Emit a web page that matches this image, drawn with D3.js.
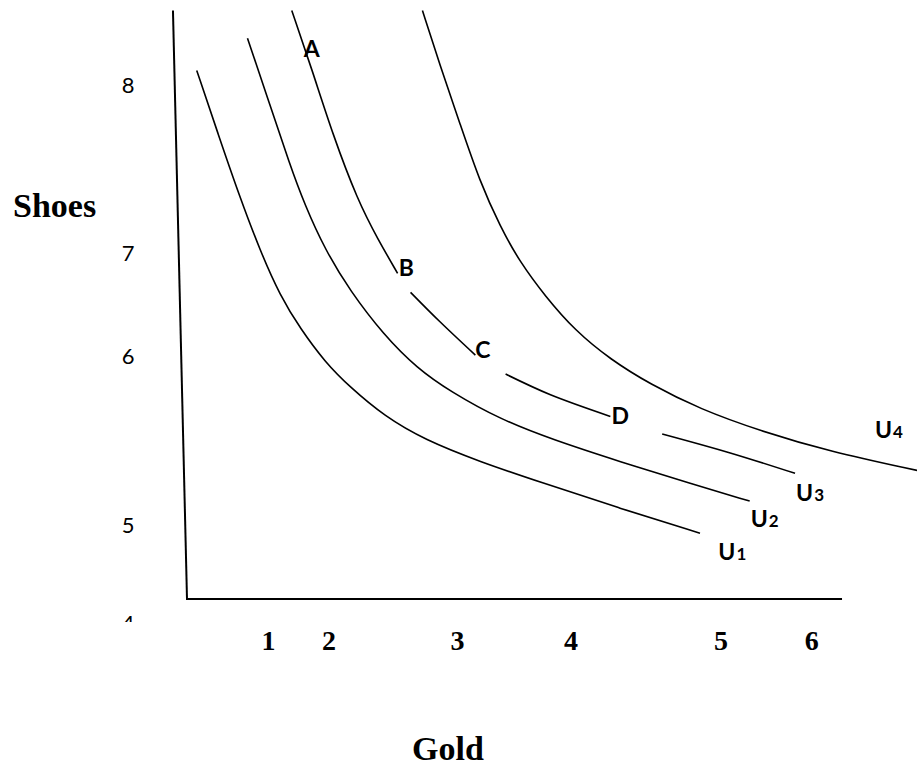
<!DOCTYPE html>
<html>
<head>
<meta charset="utf-8">
<script src="https://cdn.jsdelivr.net/npm/d3@7"></script>
<style>
  html, body { margin: 0; padding: 0; background: #fff; }
  svg { display: block; }
</style>
</head>
<body>
<svg id="chart" width="917" height="767"></svg>
<script>
// ---------- data ----------
// tick labels on the Gold (x) axis and where they sit (in gold units)
const goldTickLabels = ["1", "2", "3", "4", "5", "6"];
const goldTickPos    = [1.00, 1.56, 2.75, 3.80, 5.19, 6.03];
// tick labels on the Shoes (y) axis and where they sit (in shoes units)
const shoesTickLabels = ["8", "7", "6", "5", "4"];
const shoesTickPos    = [8.00, 6.85, 6.15, 4.99, 4.32];

// indifference curves (gold, shoes)
const u1Gold  = [0.34, 0.54, 0.74, 0.93, 1.11, 1.30, 1.53, 1.76, 2.08, 2.45, 2.96, 3.52, 4.26, 5.00];
const u1Shoes = [8.10, 7.66, 7.23, 6.86, 6.56, 6.33, 6.10, 5.93, 5.73, 5.57, 5.42, 5.28, 5.10, 4.93];

const u2Gold  = [0.81, 1.02, 1.20, 1.34, 1.53, 1.76, 2.07, 2.38, 2.69, 3.15, 3.64, 4.26, 4.91, 5.46];
const u2Shoes = [8.32, 7.86, 7.46, 7.18, 6.87, 6.59, 6.29, 6.06, 5.90, 5.71, 5.57, 5.42, 5.27, 5.15];

// U3 is broken where the points A–D are labelled
const u3Gold  = [[1.22, 1.41, 1.60, 1.83, 2.02, 2.20], [2.32, 2.59, 2.92], [3.20, 3.61, 4.17], [4.65, 5.28, 5.88]];
const u3Shoes = [[8.51, 8.10, 7.66, 7.21, 6.94, 6.71], [6.58, 6.38, 6.15], [6.02, 5.88, 5.73], [5.61, 5.48, 5.34]];

const u4Gold  = [2.43, 2.59, 2.78, 2.96, 3.15, 3.33, 3.57, 3.84, 4.17, 4.54, 5.00, 5.56, 6.20, 7.01];
const u4Shoes = [8.51, 8.14, 7.73, 7.34, 7.03, 6.79, 6.55, 6.32, 6.12, 5.95, 5.78, 5.63, 5.49, 5.36];

// point labels on U3
const pointLabels     = ["A", "B", "C", "D"];
const pointLabelGold  = [1.33, 2.21, 2.92, 4.18];
const pointLabelShoes = [8.19, 6.69, 6.13, 5.68];

// curve names
const curveNames      = ["U", "U", "U", "U"];
const curveSubs       = ["1", "2", "3", "4"];
const curveLabelGold  = [5.17, 5.47, 5.89, 6.62];
const curveLabelShoes = [4.75, 4.97, 5.15, 5.58];

// axis frame (data units)
const axisTop    = { gold: 0.12, shoes: 8.51 };
const axisCorner = { gold: 0.25, shoes: 4.48 };
const axisEndGold = 6.315;

// ---------- layout ----------
const svg = d3.select("#chart");
const x = d3.scaleLinear().domain([0, 7]).range([160, 160 + 7 * 108]);
const y = d3.scaleLinear().domain([8, 4]).range([85, 85 + 4 * 146]);

const zip = (gs, ss) => gs.map((g, i) => ({ g: g, s: ss[i] }));
const lineSmooth = d3.line().x(d => x(d.g)).y(d => y(d.s)).curve(d3.curveBasis);
const lineShort  = d3.line().x(d => x(d.g)).y(d => y(d.s)).curve(d3.curveCatmullRom.alpha(0.5));

// axes lines
svg.append("line")
  .attr("x1", x(axisTop.gold)).attr("y1", y(axisTop.shoes))
  .attr("x2", x(axisCorner.gold)).attr("y2", y(axisCorner.shoes))
  .attr("stroke", "#000").attr("stroke-width", 2);
svg.append("line")
  .attr("x1", x(axisCorner.gold) - 1).attr("y1", y(axisCorner.shoes))
  .attr("x2", x(axisEndGold)).attr("y2", y(axisCorner.shoes))
  .attr("stroke", "#000").attr("stroke-width", 2);

// curves
const curveSets = [zip(u1Gold, u1Shoes), zip(u2Gold, u2Shoes)]
  .concat(u3Gold.map((gs, i) => zip(gs, u3Shoes[i])))
  .concat([zip(u4Gold, u4Shoes)]);
svg.append("g").selectAll("path").data(curveSets).join("path")
  .attr("d", d => d.length > 4 ? lineSmooth(d) : lineShort(d))
  .attr("fill", "none").attr("stroke", "#000").attr("stroke-width", 1.6);

// x axis labels
const xAxis = d3.axisBottom(x)
  .tickValues(goldTickPos)
  .tickFormat((d, i) => goldTickLabels[i])
  .tickSize(0);
const gx = svg.append("g").attr("transform", `translate(0,${y(axisCorner.shoes)})`).call(xAxis);
gx.select(".domain").remove();
gx.selectAll("text")
  .attr("y", 51).attr("dy", 0)
  .attr("font-family", "'Liberation Serif','Times New Roman',serif")
  .attr("font-weight", "bold").attr("font-size", 28).attr("fill", "#000");

// y axis labels (the "4" is cut off at the bottom as in the original)
svg.append("clipPath").attr("id", "yclip")
  .append("rect").attr("x", 0).attr("y", 0).attr("width", 917).attr("height", 622);
const yAxis = d3.axisLeft(y)
  .tickValues(shoesTickPos)
  .tickFormat((d, i) => shoesTickLabels[i])
  .tickSize(0);
const gy = svg.append("g").attr("clip-path", "url(#yclip)")
  .append("g").attr("transform", "translate(128,0)").call(yAxis);
gy.select(".domain").remove();
gy.selectAll("text")
  .attr("x", 0).attr("dy", "0.36em").attr("text-anchor", "middle")
  .attr("font-family", "Lato, 'Open Sans', sans-serif")
  .attr("font-size", 22).attr("fill", "#000");

// point labels
svg.append("g").selectAll("text").data(pointLabels).join("text")
  .attr("x", (d, i) => x(pointLabelGold[i]))
  .attr("y", (d, i) => y(pointLabelShoes[i]))
  .attr("font-family", "Lato, 'Open Sans', sans-serif")
  .attr("font-weight", "bold").attr("font-size", 23)
  .text(d => d);

// curve labels
const cl = svg.append("g").selectAll("text").data(curveNames).join("text")
  .attr("x", (d, i) => x(curveLabelGold[i]))
  .attr("y", (d, i) => y(curveLabelShoes[i]))
  .attr("font-family", "Lato, 'Open Sans', sans-serif")
  .attr("font-weight", "bold").attr("font-size", 23);
cl.append("tspan").text(d => d);
cl.append("tspan").attr("font-size", 17).attr("dx", 1).text((d, i) => curveSubs[i]);

// axis titles
svg.append("text").attr("x", 13).attr("y", 217)
  .attr("font-family", "'Liberation Serif','Times New Roman',serif")
  .attr("font-weight", "bold").attr("font-size", 34).text("Shoes");
svg.append("text").attr("x", 412).attr("y", 760)
  .attr("font-family", "'Liberation Serif','Times New Roman',serif")
  .attr("font-weight", "bold").attr("font-size", 34).text("Gold");
</script>
</body>
</html>
